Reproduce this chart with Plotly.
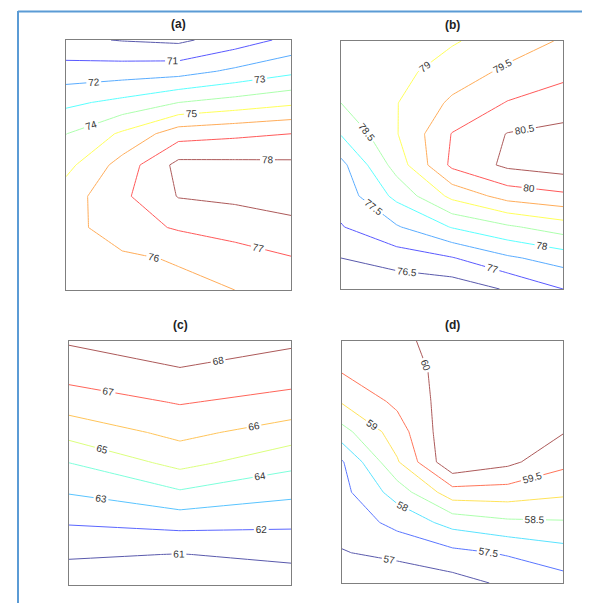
import plotly.graph_objects as go

# grid coordinates (columns left->right, rows listed top->bottom)
x5 = [1, 2, 3, 4, 5]
x3 = [1, 3, 5]
y_rows = [9, 8, 7, 6, 5, 4, 3, 2, 1]

# panel (a)
z_a = [
    [70.2, 69.95, 69.8, 70.5, 71.25],
    [71.43, 71.5, 71.6, 72.19, 72.77],
    [72.78, 73.27, 74.0, 74.4, 74.8],
    [73.98, 75.16, 76.57, 76.79, 77.0],
    [74.7, 76.4, 78.3, 78.25, 78.2],
    [75.5, 76.8, 78.05, 78.2, 78.35],
    [75.6, 76.6, 77.1, 77.44, 77.78],
    [75.4, 75.8, 76.1, 76.5, 76.93],
    [75.2, 75.5, 75.7, 76.0, 76.3],
]
# panel (b)
z_b = [
    [78.8, 78.85, 78.95, 79.25, 79.55],
    [78.75, 78.85, 79.24, 79.6, 79.85],
    [78.5, 78.98, 79.59, 80.03, 80.29],
    [78.03, 78.97, 80.02, 80.52, 80.62],
    [77.35, 78.71, 80.11, 80.6, 80.76],
    [77.2, 78.13, 79.13, 79.7, 79.89],
    [76.97, 77.45, 78.03, 78.42, 78.75],
    [76.5, 76.74, 76.97, 77.42, 77.72],
    [76.0, 76.15, 76.2, 76.55, 77.0],
]
# panel (c)
z_c = [
    [68.1, 68.72, 68.17],
    [67.38, 67.89, 67.47],
    [66.5, 67.07, 66.66],
    [65.35, 66.27, 65.52],
    [63.99, 65.31, 64.28],
    [63.02, 63.82, 63.2],
    [62.03, 62.29, 62.15],
    [61.14, 60.97, 61.25],
    [60.25, 59.7, 60.37],
]
# panel (d)
z_d = [
    [59.85, 59.92, 60.15, 60.3, 60.4],
    [59.53, 59.75, 60.2, 60.3, 60.4],
    [59.05, 59.61, 60.25, 60.3, 60.3],
    [58.32, 59.26, 60.4, 60.25, 60.03],
    [57.45, 58.95, 60.43, 60.12, 59.63],
    [57.35, 58.22, 59.29, 59.28, 59.1],
    [57.2, 57.64, 58.18, 58.4, 58.45],
    [56.97, 57.15, 57.37, 57.55, 57.8],
    [56.5, 56.6, 56.8, 57.1, 57.3],
]

titles = ["(a)", "(b)", "(c)", "(d)"]
levels = [(70, 78, 1), (76.5, 80.5, 0.5), (61, 68, 1), (57, 60, 0.5)]

# light "jet" colours
jet_light = [
    [0.0, "#5959ac"],
    [0.11, "#5959ff"],
    [0.125, "#5959ff"],
    [0.375, "#59ffff"],
    [0.5, "#acffac"],
    [0.625, "#ffff59"],
    [0.875, "#ff5959"],
    [1.0, "#ac5959"],
]

W, H = 590, 603
# pixel boxes (left, top, right, bottom)
boxes = [(58, 32, 283, 282), (333, 33, 555, 281), (61, 333, 283, 577), (334, 333, 555, 575)]

fig = go.Figure()
data = [(x5, z_a), (x5, z_b), (x3, z_c), (x5, z_d)]
for i, ((xs, z), (s, e, st), box) in enumerate(zip(data, levels, boxes)):
    n = i + 1
    xa = "x" if n == 1 else f"x{n}"
    ya = "y" if n == 1 else f"y{n}"
    fig.add_trace(go.Contour(
        x=xs, y=y_rows, z=z,
        xaxis=xa, yaxis=ya,
        zmin=s, zmax=e,
        contours=dict(start=s, end=e, size=st, coloring="lines",
                      showlabels=True,
                      labelfont=dict(size=10, color="#333333", family="Liberation Sans, Arial")),
        line=dict(width=1, smoothing=0),
        colorscale=jet_light, showscale=False, hoverinfo="skip",
    ))
    l, t, r, b = box
    axkw = dict(showticklabels=False, ticks="", showgrid=False, zeroline=False,
                showline=True, mirror=True, linecolor="#7f7f7f", linewidth=1)
    fig.layout[f"xaxis{'' if n == 1 else n}"] = dict(domain=[l / W, r / W], range=[1, 5],
                                                     anchor=ya, **axkw)
    fig.layout[f"yaxis{'' if n == 1 else n}"] = dict(domain=[1 - b / H, 1 - t / H], range=[1, 9],
                                                     anchor=xa, **axkw)
    fig.add_annotation(text=f"<b>{titles[i]}</b>", xref="paper", yref="paper",
                       x=(l + r) / 2 / W, y=1 - (t - 7) / H, xanchor="center", yanchor="bottom",
                       showarrow=False, font=dict(size=12, color="#222222",
                                                  family="Liberation Sans, Arial"))

# blue frame lines
fig.add_shape(type="line", xref="paper", yref="paper", x0=10 / W, x1=10 / W, y0=0, y1=1 - 3 / H,
              line=dict(color="#5b9bd5", width=2))
fig.add_shape(type="line", xref="paper", yref="paper", x0=10 / W, x1=1, y0=1 - 3.5 / H, y1=1 - 3.5 / H,
              line=dict(color="#5b9bd5", width=2))

fig.update_layout(width=W, height=H, margin=dict(l=0, r=0, t=0, b=0),
                  paper_bgcolor="white", plot_bgcolor="white", showlegend=False)
fig.write_html("out.html")
